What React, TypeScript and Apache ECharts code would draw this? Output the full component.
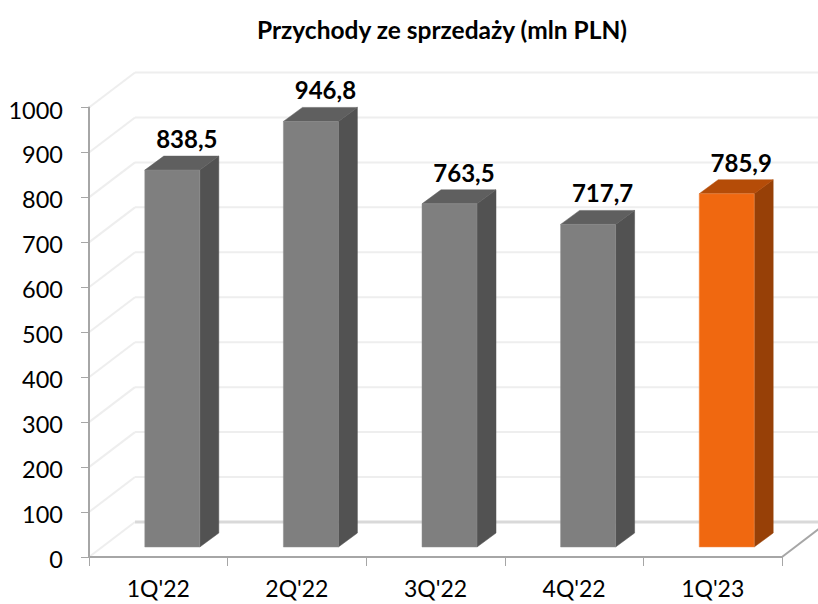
import React, { useEffect, useRef } from "react";
import * as echarts from "echarts";

const titleText = "Przychody ze sprzedaży (mln PLN)";
const categories = ["1Q'22", "2Q'22", "3Q'22", "4Q'22", "1Q'23"];
const revenue = [838.5, 946.8, 763.5, 717.7, 785.9];
const revenueLabels = ["838,5", "946,8", "763,5", "717,7", "785,9"];
const highlighted = "1Q'23";
const gridTicks = [0, 100, 200, 300, 400, 500, 600, 700, 800, 900, 1000];

const FONT = "Lato";
const WALL_DX = 46;
const WALL_DY = -35;
const BAR_W = 55;
const BAR_DX = 19;
const BAR_DY = -14;
const BAR_OFF_X = 14;
const BAR_OFF_Y = -10;

const grey = { front: "#7f7f7f", top: "#5f5f5f", side: "#525252", edge: "#8c8c8c" };
const orange = { front: "#f06810", top: "#b54c08", side: "#974007", edge: "#f28f50" };

export default function App() {
  const ref = useRef<HTMLDivElement>(null);
  useEffect(() => {
    const chart = echarts.init(ref.current!, undefined, { renderer: "svg" });
    chart.setOption({
      animation: false,
      backgroundColor: "#ffffff",
      title: {
        text: titleText,
        left: 437,
        top: 12,
        textAlign: "center",
        textStyle: { fontFamily: FONT, fontSize: 24.5, fontWeight: "bold", color: "#000" },
      },
      grid: { left: 89, right: 36, top: 107.5, bottom: 47, containLabel: false },
      xAxis: {
        type: "category",
        data: categories,
        boundaryGap: true,
        z: 2,
        axisLine: { lineStyle: { color: "#a6a6a6", width: 2 } },
        axisTick: { show: true, length: 9, alignWithLabel: false, lineStyle: { color: "#a6a6a6", width: 1 } },
        axisLabel: { fontFamily: FONT, fontSize: 23, color: "#000", margin: 19 },
      },
      yAxis: {
        type: "value",
        min: 0,
        max: 1000,
        interval: 100,
        z: 2,
        axisLine: { show: true, lineStyle: { color: "#a6a6a6", width: 2 } },
        axisTick: { show: true, length: 8, lineStyle: { color: "#a6a6a6", width: 1 } },
        axisLabel: {
          fontFamily: FONT,
          fontSize: 23.5,
          color: "#000",
          margin: 26,
          verticalAlign: "top",
          lineHeight: 4,
          formatter: (v: number) => String(v),
        },
        splitLine: { show: false },
      },
      series: [
        {
          type: "custom",
          z: 1,
          silent: true,
          data: gridTicks.map((t) => [0, t]),
          renderItem: (params: any, api: any) => {
            const v = api.value(1);
            const cs = params.coordSys;
            const y = api.coord([0, v])[1];
            const x0 = cs.x;
            const x1 = cs.x + cs.width;
            const floor = v === 0;
            const children: any[] = [
              {
                type: "line",
                shape: { x1: x0, y1: y, x2: x0 + WALL_DX, y2: y + WALL_DY },
                style: { stroke: "#eeeeee", lineWidth: 2 },
              },
              {
                type: "line",
                shape: { x1: x0 + WALL_DX, y1: y + WALL_DY, x2: x1 + WALL_DX, y2: y + WALL_DY },
                style: { stroke: floor ? "#d9d9d9" : "#eeeeee", lineWidth: floor ? 3 : 2 },
              },
            ];
            if (floor) {
              children.push({
                type: "line",
                shape: { x1: x1, y1: y, x2: x1 + WALL_DX, y2: y + WALL_DY },
                style: { stroke: "#a6a6a6", lineWidth: 2 },
              });
            }
            return { type: "group", children };
          },
        },
        {
          type: "custom",
          z: 3,
          silent: true,
          data: revenue.map((v, i) => [i, v]),
          renderItem: (params: any, api: any) => {
            const i = api.value(0);
            const c = categories[i] === highlighted ? orange : grey;
            const cx = api.coord([i, 0])[0] + BAR_OFF_X;
            const yBottom = api.coord([i, 0])[1] + BAR_OFF_Y;
            const yTop = api.coord([i, api.value(1)])[1] + BAR_OFF_Y;
            const l = cx - BAR_W / 2;
            const r = cx + BAR_W / 2;
            return {
              type: "group",
              children: [
                {
                  type: "polygon",
                  shape: { points: [[r, yTop], [r + BAR_DX, yTop + BAR_DY], [r + BAR_DX, yBottom + BAR_DY], [r, yBottom]] },
                  style: { fill: c.side, stroke: c.side, lineWidth: 0.5 },
                },
                {
                  type: "polygon",
                  shape: { points: [[l, yTop], [l + BAR_DX, yTop + BAR_DY], [r + BAR_DX, yTop + BAR_DY], [r, yTop]] },
                  style: { fill: c.top, stroke: c.top, lineWidth: 0.5 },
                },
                {
                  type: "rect",
                  shape: { x: l, y: yTop, width: BAR_W, height: yBottom - yTop },
                  style: { fill: c.front, stroke: c.edge, lineWidth: 0.5 },
                },
                {
                  type: "text",
                  style: {
                    x: cx + BAR_DX / 2 + 5,
                    y: yTop + BAR_DY - 17.5,
                    text: revenueLabels[i],
                    align: "center",
                    verticalAlign: "middle",
                    fontFamily: FONT,
                    fontSize: 24,
                    fontWeight: "bold",
                    fill: "#000",
                  },
                },
              ],
            };
          },
        },
      ],
    });
    return () => chart.dispose();
  }, []);
  return <div ref={ref} style={{ position: "fixed", left: 0, top: 0, width: 818, height: 604 }} />;
}
